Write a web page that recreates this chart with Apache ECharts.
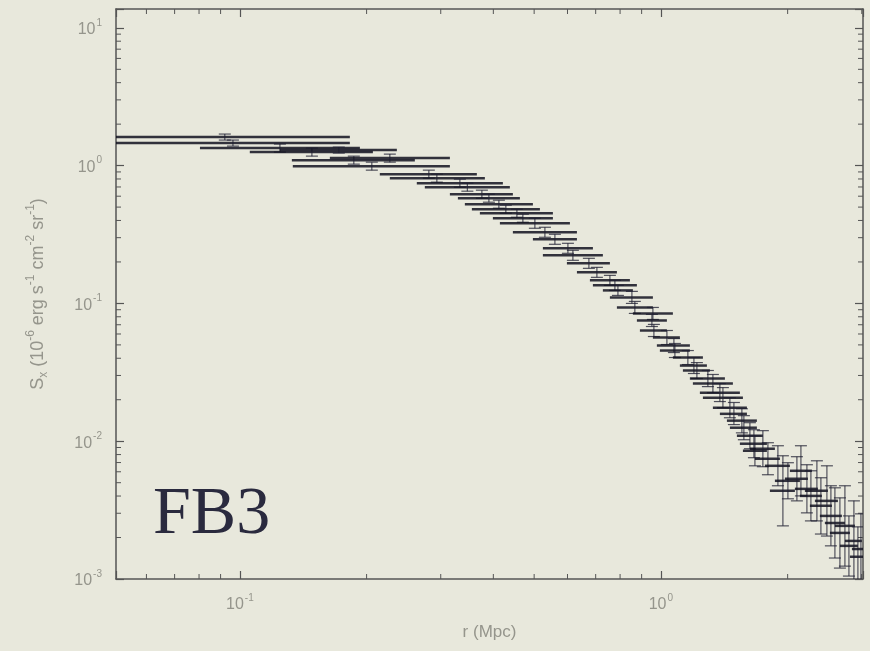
<!DOCTYPE html>
<html>
<head>
<meta charset="utf-8">
<script src="https://cdn.jsdelivr.net/npm/echarts@6/dist/echarts.min.js"></script>
<style>
html,body{margin:0;padding:0;background:#e8e8dc;}
#chart{width:870px;height:651px;}
</style>
</head>
<body>
<div id="chart"></div>
<script>
// radius (Mpc): bin centre, bin low edge, bin high edge
const r = [0.0921,0.0963,0.1245,0.1483,0.1718,0.1865,0.2058,0.2271,0.2811,0.2937,
0.3331,0.3470,0.3757,0.3904,0.4123,0.4283,0.4550,0.4701,0.5020,0.5303,
0.5601,0.6014,0.6180,0.6745,0.7047,0.7566,0.7776,0.7906,0.8534,0.8672,
0.9572,0.9520,0.9624,1.0334,1.0737,1.0796,1.1589,1.1979,1.2176,1.2930,
1.3289,1.3807,1.4038,1.4584,1.4908,1.5572,1.5743,1.6271,1.6631,1.6723,
1.7467,1.7955,1.8963,1.9488,2.0029,2.1038,2.1506,2.2222,2.2714,2.3470,
2.3988,2.4791,2.5338,2.5899,2.6617,2.7356,2.7963,2.8734,2.9370,2.9860];
const rLo = [0.0465,0.0508,0.0804,0.1056,0.1245,0.1329,0.1336,0.1636,0.2150,0.2271,
0.2632,0.2750,0.3154,0.3295,0.3423,0.3557,0.3716,0.3990,0.4146,0.4451,
0.4966,0.5245,0.5245,0.5981,0.6318,0.6783,0.6895,0.7281,0.7566,0.7862,
0.8580,0.8770,0.8916,0.9572,0.9783,0.9945,1.0678,1.1094,1.1279,1.1718,
1.1912,1.2377,1.2583,1.3289,1.3807,1.4348,1.4584,1.5153,1.5403,1.5660,
1.6271,1.6723,1.7660,1.8150,1.8654,1.9701,2.0248,2.0809,2.1387,2.1979,
2.2589,2.3214,2.3857,2.4517,2.5200,2.5899,2.6617,2.7356,2.8113,2.8420];
const rHi = [0.1825,0.1825,0.1928,0.2070,0.2360,0.2604,0.3154,0.3154,0.3655,0.3819,
0.4214,0.4378,0.4451,0.4625,0.4966,0.5160,0.5540,0.5540,0.6080,0.6318,
0.6318,0.6895,0.7281,0.7566,0.7862,0.8441,0.8770,0.8580,0.9572,0.9572,
1.0678,1.0334,1.0334,1.1094,1.1718,1.1718,1.2583,1.2861,1.3074,1.4191,
1.4825,1.5403,1.5660,1.6007,1.6007,1.6904,1.6904,1.7467,1.7856,1.7856,
1.8654,1.9172,2.0248,2.0809,2.1387,2.2344,2.2838,2.3597,2.4119,2.4926,
2.5479,2.6327,2.6908,2.7356,2.8113,2.8893,2.9370,3.0019,3.0683,3.1358];
// surface brightness and its error range
const sx = [1.612,1.458,1.341,1.254,1.296,1.096,0.9917,1.134,0.8674,0.8111,
0.7459,0.6976,0.6205,0.5802,0.5248,0.4827,0.4514,0.4151,0.3818,0.3284,
0.2921,0.2512,0.2234,0.1954,0.1681,0.1470,0.1352,0.1243,0.1105,0.0935,
0.0846,0.0752,0.0636,0.0566,0.0495,0.0455,0.0405,0.0354,0.0326,0.0285,
0.0262,0.0225,0.0207,0.0175,0.0158,0.0141,0.01253,0.01096,0.00959,0.00853,
0.00882,0.00746,0.00663,0.00437,0.00516,0.00534,0.00610,0.00451,0.00401,0.00437,
0.00340,0.00369,0.00287,0.00255,0.00216,0.00243,0.00174,0.00189,0.00145,0.00165];
const sxHi = [1.695,1.533,1.434,1.341,1.363,1.172,1.060,1.212,0.9273,0.8674,
0.7977,0.7459,0.6636,0.6205,0.5612,0.5161,0.4827,0.4439,0.4151,0.3570,
0.3176,0.2731,0.2429,0.2125,0.1827,0.1598,0.1470,0.1352,0.1223,0.1034,
0.0935,0.0832,0.0704,0.0636,0.0556,0.0512,0.0455,0.0405,0.0372,0.0326,
0.0305,0.0262,0.0245,0.0207,0.0191,0.0172,0.01533,0.01363,0.01212,0.01096,
0.01193,0.00975,0.00927,0.00784,0.00698,0.00772,0.00927,0.00675,0.00610,0.00721,
0.00543,0.00663,0.00475,0.00459,0.00388,0.00475,0.00287,0.00369,0.00239,0.00297];
const sxLo = [1.533,1.386,1.254,1.172,1.233,1.025,0.9273,1.060,0.8111,0.7586,
0.6976,0.6525,0.5802,0.5427,0.4908,0.4514,0.4221,0.3882,0.3511,0.3020,
0.2686,0.2310,0.2055,0.1797,0.1546,0.1352,0.1243,0.1143,0.1000,0.0846,
0.0765,0.0680,0.0575,0.0503,0.0440,0.0405,0.0360,0.0310,0.0285,0.0249,
0.0225,0.0194,0.0175,0.0148,0.0132,0.0115,0.01025,0.00882,0.00759,0.00663,
0.00653,0.00571,0.00475,0.00243,0.00382,0.00369,0.00401,0.00302,0.00264,0.00264,
0.00212,0.00205,0.00174,0.00142,0.00120,0.00124,0.00105,0.000967,0.000875,0.00092];

const xMin = 0.0508, xMax = 3.02;
const yMin = 0.001, yMax = 13.7;
const xTickLabels = [0.1, 1];
const yTickLabels = [0.001, 0.01, 0.1, 1, 10];
const panelLabel = 'FB3';

function minorTicks(lo, hi) {
  const out = [];
  for (let e = Math.floor(Math.log10(lo)); e <= Math.ceil(Math.log10(hi)); e++) {
    for (let m = 2; m <= 9; m++) {
      const v = m * Math.pow(10, e);
      if (v > lo && v < hi) out.push(v);
    }
  }
  return out;
}
const xMinor = minorTicks(xMin, xMax);
const yMinor = minorTicks(yMin, yMax);

const labelColor = '#95958c';
const axisColor = '#555555';
const font = '"Liberation Sans", Arial, sans-serif';

function powLabel(v) {
  const lg = Math.log10(v);
  const e = Math.round(lg);
  if (Math.abs(lg - e) > 1e-6) return '';
  return '{b|10}{s|' + e + '}';
}
const labelRich = {
  b: {fontSize: 16, color: labelColor, fontFamily: font, verticalAlign: 'bottom'},
  s: {fontSize: 10, color: labelColor, fontFamily: font, verticalAlign: 'bottom', padding: [0, 0, 10, 1]}
};

const tableData = r.map((v, i) => [v, sx[i], rLo[i], rHi[i], sxLo[i], sxHi[i]]);

const chart = echarts.init(document.getElementById('chart'));
const baseAxis = {
  type: 'log',
  logBase: 10,
  axisLine: {show: true, lineStyle: {color: axisColor, width: 1.5}},
  axisTick: {show: true, inside: true, length: 8, lineStyle: {color: axisColor, width: 1.2}},
  splitLine: {show: false},
  minorTick: {show: false},
  minorSplitLine: {show: false}
};

chart.setOption({
  backgroundColor: '#e8e8dc',
  animation: false,
  grid: {left: 116, right: 7, top: 9, bottom: 72, containLabel: false},
  xAxis: [
    Object.assign({}, baseAxis, {
      min: xMin, max: xMax, position: 'bottom',
      name: 'r (Mpc)', nameLocation: 'middle', nameGap: 45,
      nameTextStyle: {color: labelColor, fontSize: 17, fontFamily: font},
      axisLabel: {show: true, margin: 14, formatter: powLabel, rich: labelRich,
        customValues: xTickLabels}
    }),
    Object.assign({}, baseAxis, {
      min: xMin, max: xMax, position: 'top', axisLabel: {show: false}
    })
  ],
  yAxis: [
    Object.assign({}, baseAxis, {
      min: yMin, max: yMax, position: 'left',
      name: '{t|S}{sub|x}{t| (10}{sup|-6}{t| erg s}{sup|-1}{t| cm}{sup|-2}{t| sr}{sup|-1}{t|)}',
      nameLocation: 'middle', nameGap: 66, nameRotate: 90,
      nameTextStyle: {
        rich: {
          t: {fontSize: 18, color: labelColor, fontFamily: font, verticalAlign: 'bottom', padding: [0, 0, 3, 0]},
          sub: {fontSize: 12, color: labelColor, fontFamily: font, verticalAlign: 'bottom'},
          sup: {fontSize: 12, color: labelColor, fontFamily: font, verticalAlign: 'bottom', padding: [0, 0, 13, 0]}
        }
      },
      axisLabel: {show: true, margin: 14, formatter: powLabel, rich: labelRich,
        customValues: yTickLabels}
    }),
    Object.assign({}, baseAxis, {
      min: yMin, max: yMax, position: 'right', axisLabel: {show: false}
    })
  ],
  graphic: [{
    type: 'text', left: 153, top: 481, z: 100,
    style: {text: panelLabel, font: '68px "Liberation Serif", "Times New Roman", serif', fill: '#2a2a3e'}
  }],
  series: [
    {
      type: 'custom', name: 'minorX', xAxisIndex: 0, yAxisIndex: 0, silent: true, clip: false,
      data: xMinor.map(v => [v]),
      encode: {x: 0},
      renderItem: function (params, api) {
        const v = api.value(0);
        const b = api.coord([v, yMin]);
        const t = api.coord([v, yMax]);
        const st = {stroke: axisColor, lineWidth: 1};
        return {type: 'group', children: [
          {type: 'line', shape: {x1: b[0], y1: b[1], x2: b[0], y2: b[1] - 5}, style: st},
          {type: 'line', shape: {x1: t[0], y1: t[1], x2: t[0], y2: t[1] + 5}, style: st}
        ]};
      }
    },
    {
      type: 'custom', name: 'minorY', xAxisIndex: 0, yAxisIndex: 0, silent: true, clip: false,
      data: yMinor.map(v => [xMin, v]),
      encode: {x: 0, y: 1},
      renderItem: function (params, api) {
        const v = api.value(1);
        const L = api.coord([xMin, v]);
        const R = api.coord([xMax, v]);
        const st = {stroke: axisColor, lineWidth: 1};
        return {type: 'group', children: [
          {type: 'line', shape: {x1: L[0], y1: L[1], x2: L[0] + 5, y2: L[1]}, style: st},
          {type: 'line', shape: {x1: R[0], y1: R[1], x2: R[0] - 5, y2: R[1]}, style: st}
        ]};
      }
    },
    {
      type: 'custom', name: 'profile', xAxisIndex: 0, yAxisIndex: 0, clip: true,
      data: tableData,
      encode: {x: [0, 2, 3], y: [1, 4, 5]},
      renderItem: function (params, api) {
        const rc = api.value(0), s = api.value(1);
        const a = api.coord([api.value(2), s]);
        const b = api.coord([api.value(3), s]);
        const lo = api.coord([rc, api.value(4)]);
        const hi = api.coord([rc, api.value(5)]);
        const cap = 6;
        const hStyle = {stroke: 'rgba(18,18,32,0.85)', lineWidth: 2.5};
        const vStyle = {stroke: 'rgba(30,30,48,0.75)', lineWidth: 1.2};
        return {type: 'group', children: [
          {type: 'line', shape: {x1: a[0], y1: a[1], x2: b[0], y2: b[1]}, style: hStyle},
          {type: 'line', shape: {x1: lo[0], y1: lo[1], x2: hi[0], y2: hi[1]}, style: vStyle},
          {type: 'line', shape: {x1: lo[0] - cap, y1: lo[1], x2: lo[0] + cap, y2: lo[1]}, style: vStyle},
          {type: 'line', shape: {x1: hi[0] - cap, y1: hi[1], x2: hi[0] + cap, y2: hi[1]}, style: vStyle}
        ]};
      }
    }
  ]
});
</script>
</body>
</html>
